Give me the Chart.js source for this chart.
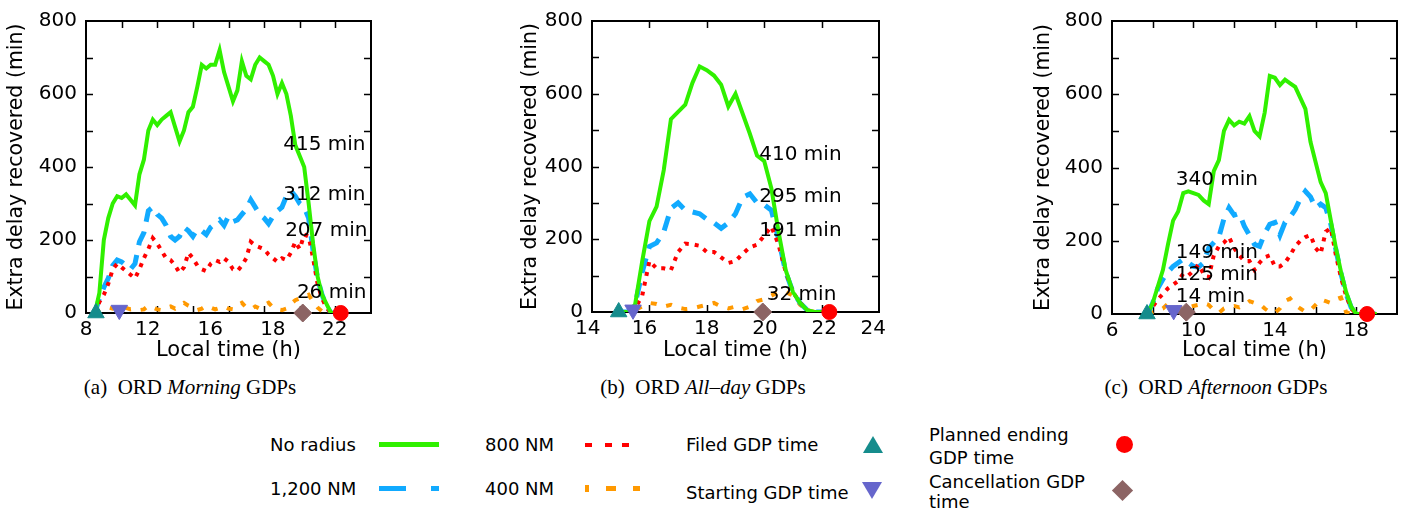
<!DOCTYPE html>
<html>
<head>
<meta charset="utf-8">
<script src="https://cdn.jsdelivr.net/npm/chart.js@4.4.1/dist/chart.umd.min.js"></script>
<style>
  body { margin: 0; background: #fff; width: 1408px; height: 514px; overflow: hidden; position: relative; font-family: "DejaVu Sans", sans-serif; }
  canvas { position: absolute; top: 0; }
  .cap { position: absolute; top: 375px; font: 21px "Liberation Serif", serif; line-height: 24px; transform: translateX(-50%); white-space: nowrap; color: #000; }
  #legend { position: absolute; left: 250px; top: 415px; width: 1000px; height: 99px; }
  #legend div { position: absolute; }
  #legend .t { font: 18px "DejaVu Sans", sans-serif; line-height: 20px; white-space: nowrap; color: #000; }
</style>
</head>
<body>
<canvas id="panelA" width="390" height="370" style="left:0px"></canvas>
<canvas id="panelB" width="400" height="370" style="left:500px"></canvas>
<canvas id="panelC" width="388" height="370" style="left:1020px"></canvas>

<div class="cap" style="left:190px">(a)&nbsp; ORD <i>Morning</i> GDPs</div>
<div class="cap" style="left:703px">(b)&nbsp; ORD <i>All–day</i> GDPs</div>
<div class="cap" style="left:1216px">(c)&nbsp; ORD <i>Afternoon</i> GDPs</div>

<div id="legend">
  <div class="t" style="left:20px;top:20px">No radius</div>
  <div style="left:129px;top:27px;width:60px;height:5px;background:#30f000"></div>
  <div class="t" style="left:20px;top:64px">1,200 NM</div>
  <div style="left:129px;top:71px;width:27px;height:5px;background:#11aaff"></div>
  <div style="left:181px;top:71px;width:8px;height:5px;background:#11aaff"></div>

  <div class="t" style="left:235px;top:20px">800 NM</div>
  <div style="left:335px;top:28px;width:7px;height:4px;background:#ff0000"></div>
  <div style="left:355px;top:28px;width:7px;height:4px;background:#ff0000"></div>
  <div style="left:372px;top:28px;width:7px;height:4px;background:#ff0000"></div>
  <div class="t" style="left:235px;top:64px">400 NM</div>
  <div style="left:335px;top:70px;width:4px;height:7px;background:#ff9900"></div>
  <div style="left:356px;top:71px;width:10px;height:5px;background:#ff9900"></div>
  <div style="left:383px;top:71px;width:7px;height:5px;background:#ff9900"></div>

  <div class="t" style="left:436px;top:20px">Filed GDP time</div>
  <div style="left:613px;top:21px;width:0;height:0;border-left:10.5px solid transparent;border-right:10.5px solid transparent;border-bottom:17px solid #158c8c"></div>
  <div class="t" style="left:436px;top:68px">Starting GDP time</div>
  <div style="left:612px;top:67px;width:0;height:0;border-left:10.5px solid transparent;border-right:10.5px solid transparent;border-top:17px solid #6666cc"></div>

  <div class="t" style="left:679px;top:8px;line-height:23px">Planned ending<br>GDP time</div>
  <div style="left:866px;top:21px;width:17px;height:17px;border-radius:50%;background:#ff0000"></div>
  <div class="t" style="left:679px;top:57px">Cancellation GDP<br>time</div>
  <div style="left:865px;top:68px;width:15px;height:15px;background:#8c6464;transform:rotate(45deg)"></div>
</div>

<script>
// ---- panel (a) ORD Morning GDPs ----
const timeA = [8.5, 8.75, 9, 9.25, 9.5, 9.75, 10, 10.25, 10.5, 10.75, 11, 11.25, 11.5, 11.75, 12, 12.25, 12.5, 12.75, 13, 13.25,
  13.5, 13.75, 14, 14.25, 14.5, 14.75, 15, 15.25, 15.5, 15.75, 16, 16.25, 16.5, 16.75, 17, 17.25, 17.5, 17.75, 18, 18.25,
  18.5, 18.75, 19, 19.25, 19.5, 19.75, 20, 20.25, 20.5, 20.75, 21, 21.25, 21.5, 21.75, 22];
const noRadiusA = [0, 55, 200, 260, 300, 320, 315, 325, 310, 295, 380, 420, 500, 530, 515, 530, 540, 550, 510, 470,
  500, 550, 565, 620, 680, 670, 680, 680, 720, 660, 620, 580, 610, 690, 650, 640, 680, 700, 690, 680,
  650, 600, 630, 600, 540, 460, 430, 400, 300, 190, 100, 50, 25, 0, 0];
const nm1200A = [0, 40, 70, 95, 130, 145, 140, 130, 120, 135, 195, 220, 280, 290, 270, 260, 240, 210, 200, 210,
  235, 225, 210, 230, 225, 215, 235, 245, 255, 240, 265, 250, 255, 270, 285, 310, 290, 270, 260, 245,
  265, 280, 290, 320, 335, 320, 300, 290, 260, 170, 95, 50, 20, 0, 0];
const nm800A = [0, 30, 50, 80, 120, 135, 125, 115, 105, 95, 120, 150, 175, 205, 190, 170, 150, 145, 130, 110,
  125, 165, 150, 130, 120, 115, 135, 145, 140, 150, 140, 120, 115, 130, 150, 195, 185, 180, 175, 160,
  150, 140, 150, 145, 165, 195, 175, 215, 210, 150, 80, 40, 15, 0, 0];
const nm400A = [0, 5, 10, 15, 12, 15, 18, 14, 10, 12, 8, 10, 20, 15, 10, 8, 15, 18, 12, 20,
  28, 20, 15, 8, 12, 20, 15, 10, 14, 18, 12, 10, 22, 28, 15, 10, 18, 12, 22, 28,
  15, 10, 8, 12, 25, 35, 40, 45, 50, 30, 15, 5, 0, 0, 0];
// filed, starting, cancellation, planned ending
const markerTimeA = [8.56, 9.87, 20.17, 22.3];
const markerValA = [0, 8, 0, 0];
const noteTextA = ["415 min", "312 min", "207 min", "26 min"];
const noteTimeA = [19.07, 19.07, 19.18, 19.84];
const noteValA = [461, 323, 224, 56];
const tickLabelsA = ["8", "12", "16", "18", "22"];
const tickLabelPosA = [8, 11.47, 14.98, 18.49, 21.97];

// ---- panel (b) ORD All-day GDPs ----
const timeB = [15, 15.25, 15.5, 15.75, 16, 16.25, 16.5, 16.75, 17, 17.25, 17.5, 17.75, 18, 18.25, 18.5, 18.75,
  19, 19.25, 19.5, 19.75, 20, 20.25, 20.5, 20.75, 21, 21.25, 21.5, 21.75, 22, 22.25];
const noRadiusB = [0, 0, 20, 140, 250, 290, 390, 530, 550, 570, 630, 675, 665, 650, 625, 565,
  600, 545, 490, 430, 415, 340, 220, 115, 55, 25, 5, 0, 0, 0];
const nm1200B = [0, 0, 20, 110, 180, 190, 220, 285, 300, 280, 275, 270, 255, 245, 230, 245,
  270, 315, 325, 300, 295, 280, 200, 110, 55, 25, 5, 0, 0, 0];
const nm800B = [0, 0, 10, 45, 140, 120, 120, 115, 165, 188, 186, 182, 165, 165, 150, 135,
  140, 160, 178, 185, 210, 235, 185, 110, 55, 25, 5, 0, 0, 0];
const nm400B = [0, 0, 5, 15, 25, 22, 15, 20, 12, 8, 10, 15, 20, 25, 15, 10,
  15, 8, 15, 30, 35, 45, 55, 55, 45, 20, 5, 0, 0, 0];
const markerTimeB = [14.93, 15.43, 19.95, 22.27];
const markerValB = [0, 6, 0, 0];
const noteTextB = ["410 min", "295 min", "191 min", "32 min"];
const noteTimeB = [19.83, 19.83, 19.83, 20.09];
const noteValB = [432, 316, 223, 47];
const tickLabelsB = ["14", "16", "18", "20", "22", "24"];
const tickLabelPosB = [13.85, 15.83, 18, 20.03, 22.09, 23.8];

// ---- panel (c) ORD Afternoon GDPs ----
const timeC = [7.75, 8, 8.25, 8.5, 8.75, 9, 9.25, 9.5, 9.75, 10, 10.25, 10.5, 10.75, 11, 11.25, 11.5, 11.75, 12, 12.25, 12.5,
  12.75, 13, 13.25, 13.5, 13.75, 14, 14.25, 14.5, 14.75, 15, 15.25, 15.5, 15.75, 16, 16.25, 16.5, 16.75, 17, 17.25, 17.5,
  17.75, 18, 18.25, 18.5, 18.75, 19];
const noRadiusC = [0, 30, 75, 120, 190, 255, 280, 330, 335, 330, 325, 310, 300, 390, 420, 500, 530, 515, 525, 520,
  540, 500, 485, 550, 650, 645, 625, 640, 630, 620, 590, 560, 470, 415, 360, 330, 255, 180, 115, 60,
  20, 0, 0, 0, 0, 0];
const nm1200C = [0, 30, 70, 95, 115, 130, 140, 150, 140, 130, 128, 140, 180, 195, 210, 260, 290, 270, 275, 240,
  215, 190, 185, 220, 245, 250, 215, 250, 265, 285, 315, 335, 320, 290, 300, 290, 245, 175, 110, 55,
  18, 0, 0, 0, 0, 0];
const nm800C = [0, 20, 40, 55, 70, 80, 90, 110, 105, 118, 135, 110, 100, 160, 185, 195, 210, 180, 160, 145,
  145, 120, 140, 155, 160, 130, 130, 140, 160, 185, 200, 210, 215, 180, 165, 225, 235, 160, 100, 50,
  15, 0, 0, 0, 0, 0];
const nm400C = [0, 5, 10, 15, 28, 22, 18, 15, 18, 22, 25, 30, 25, 10, 3, 15, 20, 22, 18, 25,
  35, 30, 28, 15, 5, 3, 15, 35, 42, 25, 15, 6, 10, 25, 40, 35, 30, 40, 45, 5,
  0, 0, 0, 0, 0, 0];
const markerTimeC = [7.72, 9.03, 9.65, 18.53];
const markerValC = [0, 10, 5, 0];
const noteTextC = ["340 min", "149 min", "125 min", "14 min"];
const noteTimeC = [9.13, 9.13, 9.13, 9.13];
const noteValC = [367, 167, 107, 48];
const tickLabelsC = ["6", "10", "14", "18"];
const tickLabelPosC = [6, 10, 14, 18];

const seriesNames = ["No radius", "1,200 NM", "800 NM", "400 NM"];
const markerNames = ["Filed GDP time", "Starting GDP time", "Cancellation GDP time", "Planned ending GDP time"];

const GREEN = "#30f000", BLUE = "#11aaff", RED = "#ff0000", ORANGE = "#ff9900";
const markerColors = ["#158c8c", "#6666cc", "#8c6464", "#ff0000"];
const markerStyles = ["triangle", "triangle", "rectRot", "circle"];
const markerRotation = [0, 180, 0, 0];
const markerRadius = [9.5, 9.5, 9, 7.5];

// cadre + petits traits vers l'intérieur, comme gnuplot
const framePlugin = {
  id: "frame",
  beforeDatasetsDraw(chart, args, opts) {
    const { ctx, chartArea: a, scales: { x, y } } = chart;
    ctx.save();
    ctx.strokeStyle = "#000";
    ctx.lineWidth = 1.5;
    ctx.beginPath();
    for (let v = 100; v < 800; v += 100) {
      const py = Math.round(y.getPixelForValue(v)) + 0.5;
      ctx.moveTo(a.left, py); ctx.lineTo(a.left + 7, py);
      ctx.moveTo(a.right, py); ctx.lineTo(a.right - 7, py);
    }
    for (let v = x.min + opts.step; v < x.max - 0.01; v += opts.step) {
      const px = Math.round(x.getPixelForValue(v)) + 0.5;
      ctx.moveTo(px, a.bottom); ctx.lineTo(px, a.bottom - 7);
      ctx.moveTo(px, a.top); ctx.lineTo(px, a.top + 7);
    }
    ctx.stroke();
    ctx.lineWidth = 2;
    ctx.strokeRect(a.left, a.top, a.right - a.left, a.bottom - a.top);
    ctx.restore();
  }
};

// étiquettes "xxx min" posées sur les échelles
const notesPlugin = {
  id: "notes",
  afterDatasetsDraw(chart, args, opts) {
    const { ctx, scales: { x, y } } = chart;
    ctx.save();
    ctx.font = '20px "DejaVu Sans"';
    ctx.fillStyle = "#000";
    ctx.textAlign = "left";
    ctx.textBaseline = "middle";
    opts.text.forEach((t, i) => {
      ctx.fillText(t, x.getPixelForValue(opts.xs[i]), y.getPixelForValue(opts.ys[i]));
    });
    ctx.restore();
  }
};

function buildPanel(id, p) {
  const lineStyles = [
    { ys: p.noRadius, color: GREEN, width: 4, dash: [] },
    { ys: p.nm1200, color: BLUE, width: 5, dash: [15, 10] },
    { ys: p.nm800, color: RED, width: 4, dash: [4, 6] },
    { ys: p.nm400, color: ORANGE, width: 4, dash: [6, 10] }
  ];
  const datasets = [];
  markerNames.forEach((name, i) => {
    datasets.push({
      type: "scatter",
      label: name,
      data: [{ x: p.markerTime[i], y: p.markerVal[i] }],
      pointStyle: markerStyles[i],
      rotation: markerRotation[i],
      pointRadius: markerRadius[i],
      pointBackgroundColor: markerColors[i],
      pointBorderColor: markerColors[i],
      pointBorderWidth: 1,
      clip: false
    });
  });
  // vert au-dessus, puis rouge, bleu, orange
  [0, 2, 1, 3].forEach(k => {
    const s = lineStyles[k];
    datasets.push({
      type: "line",
      label: seriesNames[k],
      data: p.time.map((t, i) => ({ x: t, y: s.ys[i] })),
      borderColor: s.color,
      borderWidth: s.width,
      borderDash: s.dash,
      pointRadius: 0,
      tension: 0,
      fill: false
    });
  });

  const canvas = document.getElementById(id);
  return new Chart(canvas, {
    type: "line",
    data: { datasets: datasets },
    options: {
      responsive: false,
      animation: false,
      layout: { padding: { top: p.padTop, right: p.padRight, left: 0, bottom: 0 } },
      plugins: {
        legend: { display: false },
        tooltip: { enabled: false },
        frame: { step: 2 },
        notes: { text: p.noteText, xs: p.noteTime, ys: p.noteVal }
      },
      scales: {
        x: {
          type: "linear",
          min: p.xMin,
          max: p.xMax,
          grid: { display: false, drawTicks: false },
          border: { display: false },
          afterBuildTicks: s => { s.ticks = p.tickLabelPos.map(v => ({ value: v })); },
          afterFit: s => { s.height = canvas.height - p.plotBottom; },
          ticks: {
            autoSkip: false,
            maxRotation: 0,
            padding: 5,
            color: "#000",
            font: { family: "DejaVu Sans", size: 20 },
            callback: (v, i) => p.tickLabels[i]
          },
          title: {
            display: true,
            text: "Local time (h)",
            color: "#000",
            font: { family: "DejaVu Sans", size: 21 },
            padding: { top: 0, bottom: 7 }
          }
        },
        y: {
          min: 0,
          max: 800,
          grid: { display: false, drawTicks: false },
          border: { display: false },
          afterFit: s => { s.width = p.yAxisW; },
          ticks: {
            stepSize: 200,
            padding: 9,
            color: "#000",
            font: { family: "DejaVu Sans", size: 20 }
          },
          title: {
            display: true,
            text: "Extra delay recovered (min)",
            color: "#000",
            font: { family: "DejaVu Sans", size: 20.5 },
            padding: { top: p.titlePad, bottom: 0 }
          }
        }
      }
    },
    plugins: [framePlugin, notesPlugin]
  });
}

buildPanel("panelA", {
  time: timeA, noRadius: noRadiusA, nm1200: nm1200A, nm800: nm800A, nm400: nm400A,
  markerTime: markerTimeA, markerVal: markerValA,
  noteText: noteTextA, noteTime: noteTimeA, noteVal: noteValA,
  tickLabels: tickLabelsA, tickLabelPos: tickLabelPosA,
  xMin: 8, xMax: 24, padTop: 16, padRight: 19, yAxisW: 86, titlePad: 4, plotBottom: 313
});
buildPanel("panelB", {
  time: timeB, noRadius: noRadiusB, nm1200: nm1200B, nm800: nm800B, nm400: nm400B,
  markerTime: markerTimeB, markerVal: markerValB,
  noteText: noteTextB, noteTime: noteTimeB, noteVal: noteValB,
  tickLabels: tickLabelsB, tickLabelPos: tickLabelPosB,
  xMin: 14, xMax: 24, padTop: 15, padRight: 21, yAxisW: 92, titlePad: 18, plotBottom: 312
});
buildPanel("panelC", {
  time: timeC, noRadius: noRadiusC, nm1200: nm1200C, nm800: nm800C, nm400: nm400C,
  markerTime: markerTimeC, markerVal: markerValC,
  noteText: noteTextC, noteTime: noteTimeC, noteVal: noteValC,
  tickLabels: tickLabelsC, tickLabelPos: tickLabelPosC,
  xMin: 6, xMax: 20, padTop: 15, padRight: 11, yAxisW: 92, titlePad: 11, plotBottom: 314
});
</script>
</body>
</html>
